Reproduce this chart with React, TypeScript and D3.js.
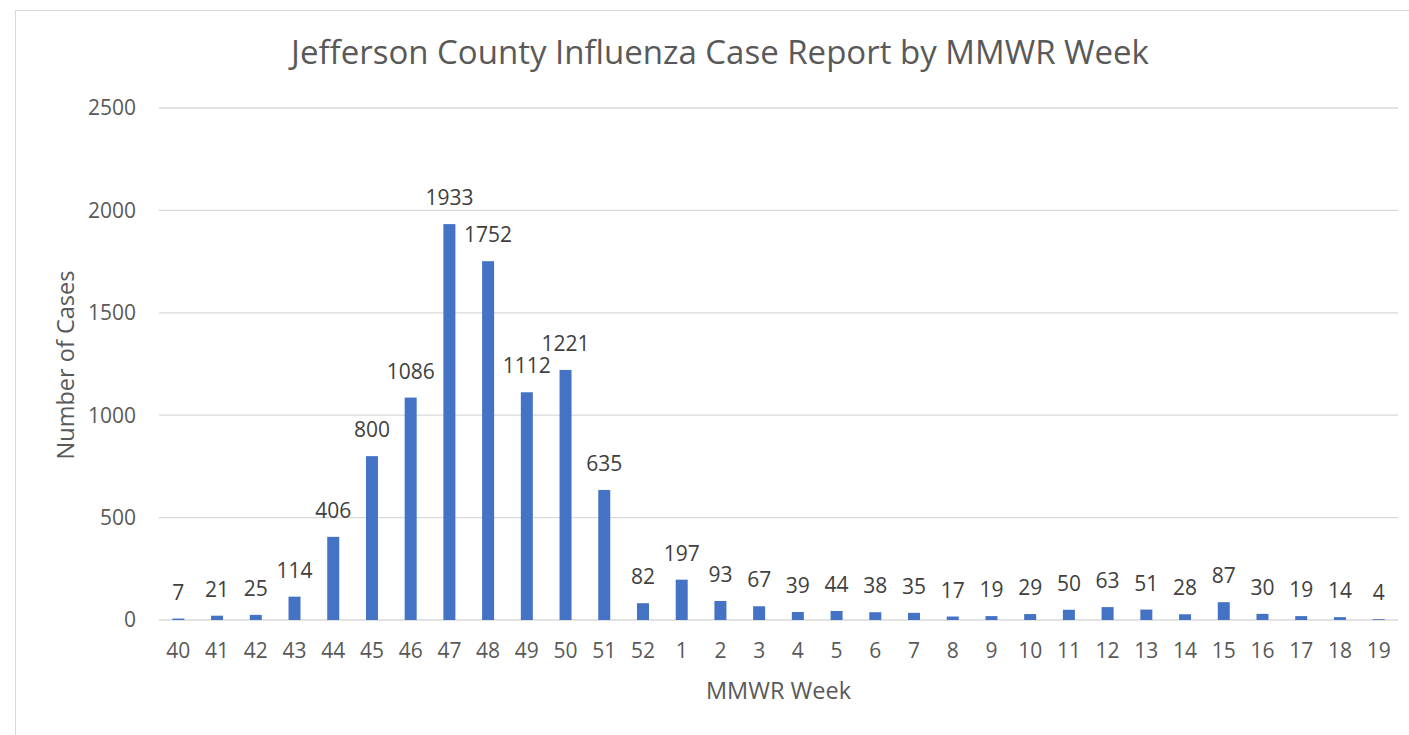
import React from "react";
import * as d3 from "d3";

// weeks and counts
const weeks = ["40", "41", "42", "43", "44", "45", "46", "47", "48", "49", "50", "51", "52", "1", "2", "3", "4", "5", "6", "7", "8", "9", "10", "11", "12", "13", "14", "15", "16", "17", "18", "19"];
const cases = [7, 21, 25, 114, 406, 800, 1086, 1933, 1752, 1112, 1221, 635, 82, 197, 93, 67, 39, 44, 38, 35, 17, 19, 29, 50, 63, 51, 28, 87, 30, 19, 14, 4];
const yTicks = [0, 500, 1000, 1500, 2000, 2500];

const W = 1409,
  H = 735;
const margin = { top: 108, right: 11, bottom: 115, left: 159 };
const font = "'Open Sans', sans-serif";
const textColor = "#595959";

const x = d3
  .scaleBand()
  .domain(weeks)
  .range([margin.left, W - margin.right])
  .paddingInner(0.69)
  .paddingOuter(0.345);

const y = d3
  .scaleLinear()
  .domain([0, 2500])
  .range([H - margin.bottom, margin.top]);

export default function App() {
  const plotMid = (margin.left + W - margin.right) / 2;
  return (
    <svg width={W} height={H} style={{ position: "absolute", left: 0, top: 0, background: "#fff" }}>
      {/* chart frame */}
      <rect x={15.5} y={10.5} width={W} height={H} fill="#fff" stroke="#d9d9d9" />

      <text x={720} y={64} textAnchor="middle" fontFamily={font} fontSize={33} fill={textColor}>
        Jefferson County Influenza Case Report by MMWR Week
      </text>

      {/* gridlines + y ticks */}
      {yTicks.map((t) => (
        <g key={t}>
          <line x1={margin.left} x2={W - margin.right} y1={y(t)} y2={y(t)} stroke="#d9d9d9" strokeWidth={1.3} />
          <text x={136} y={y(t)} dy="0.35em" textAnchor="end" fontFamily={font} fontSize={21} fill={textColor}>
            {t}
          </text>
        </g>
      ))}

      {/* bars */}
      {weeks.map((w, i) => (
        <rect key={w} x={x(w)} width={x.bandwidth()} y={y(cases[i])} height={y(0) - y(cases[i])} fill="#4472C4" />
      ))}

      {/* value labels */}
      {weeks.map((w, i) => (
        <text key={"l" + w} x={(x(w) as number) + x.bandwidth() / 2} y={y(cases[i]) - 19} textAnchor="middle" fontFamily={font} fontSize={21} fill="#404040">
          {cases[i]}
        </text>
      ))}

      {/* x tick labels */}
      {weeks.map((w) => (
        <text key={"t" + w} x={(x(w) as number) + x.bandwidth() / 2} y={658} textAnchor="middle" fontFamily={font} fontSize={21} fill={textColor}>
          {w}
        </text>
      ))}

      <text x={plotMid} y={699} textAnchor="middle" fontFamily={font} fontSize={23.5} fill={textColor}>
        MMWR Week
      </text>
      <text transform={`translate(74,365) rotate(-90)`} textAnchor="middle" fontFamily={font} fontSize={23.5} fill={textColor}>
        Number of Cases
      </text>
    </svg>
  );
}
